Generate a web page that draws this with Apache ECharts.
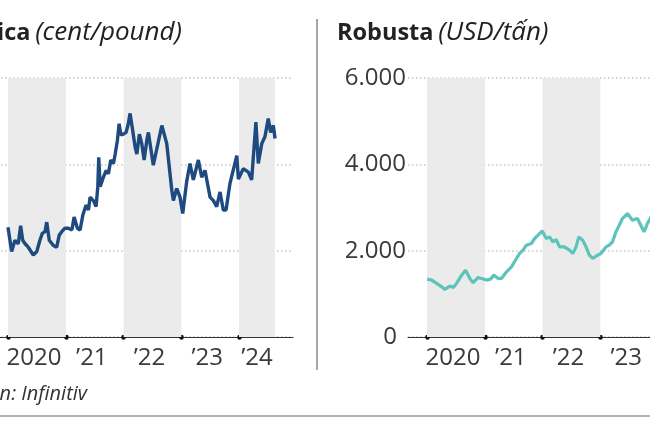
<!DOCTYPE html>
<html>
<head>
<meta charset="utf-8">
<script src="https://cdn.jsdelivr.net/npm/echarts@6/dist/echarts.min.js"></script>
<style>
html,body{margin:0;padding:0;background:#fff;}
#c{width:650px;height:433px;}
</style>
</head>
<body>
<div id="c"></div>
<script>
// ---------- DATA ----------
const years = [2020, 2021, 2022, 2023, 2024];
const tickLabels = ['2020', '\u201921', '\u201922', '\u201923', '\u201924'];

const arabicaDates = ['2020-01-01','2020-01-24','2020-02-14','2020-03-06','2020-03-21','2020-04-03','2020-04-18','2020-05-08','2020-06-09','2020-07-01','2020-07-21','2020-08-05','2020-08-22','2020-09-02','2020-09-18','2020-10-14','2020-11-04','2020-11-20','2020-12-06','2020-12-26','2021-01-17','2021-02-08','2021-02-22','2021-03-15','2021-04-01','2021-04-18','2021-05-09','2021-05-24','2021-06-03','2021-06-24','2021-07-11','2021-07-22','2021-07-28','2021-08-06','2021-08-26','2021-09-13','2021-09-27','2021-10-12','2021-10-29','2021-11-09','2021-11-23','2021-12-04','2021-12-15','2021-12-31','2022-01-17','2022-01-31','2022-02-11','2022-02-28','2022-03-15','2022-03-26','2022-04-11','2022-04-26','2022-05-11','2022-05-28','2022-06-07','2022-07-08','2022-08-31','2022-10-01','2022-11-02','2022-11-12','2022-12-03','2022-12-24','2023-01-10','2023-02-04','2023-02-25','2023-03-18','2023-04-19','2023-05-10','2023-05-31','2023-07-02','2023-07-23','2023-08-13','2023-09-03','2023-09-24','2023-10-11','2023-11-05','2023-12-18','2023-12-28','2024-01-28','2024-02-29','2024-03-21','2024-04-17','2024-05-02','2024-05-24','2024-06-13','2024-07-04','2024-07-19','2024-08-05','2024-08-16'];
const arabicaValues = [127,99,112,108,129,112,108,104,95,99,112,120,122,133,112,106,104,118,122,126,126,124,139,126,124,141,153,147,162,158,151,174,208,174,185,193,189,205,201,212,228,247,234,235,237,247,259,239,220,212,235,224,205,228,237,199,245,224,170,158,172,162,143,180,201,182,205,185,193,162,158,151,168,147,147,178,210,183,195,191,182,249,201,224,232,253,237,245,230];

const robustaDates = ['2020-01-02','2020-01-31','2020-03-02','2020-04-03','2020-04-23','2020-05-25','2020-06-15','2020-07-06','2020-08-07','2020-09-01','2020-09-28','2020-10-19','2020-11-19','2020-12-11','2021-01-12','2021-02-06','2021-02-27','2021-03-26','2021-04-16','2021-05-18','2021-06-18','2021-07-20','2021-08-09','2021-08-30','2021-09-21','2021-10-22','2021-11-12','2021-12-03','2021-12-30','2022-01-24','2022-02-14','2022-03-07','2022-03-28','2022-04-18','2022-05-19','2022-06-20','2022-07-11','2022-08-01','2022-08-18','2022-09-12','2022-10-03','2022-10-24','2022-11-14','2022-12-15','2023-01-05','2023-02-06','2023-02-27','2023-03-19','2023-04-10','2023-05-01','2023-05-21','2023-06-22','2023-07-23','2023-08-24','2023-09-14','2023-10-05','2023-10-26','2023-12-15','2024-03-01','2024-05-15','2024-08-16'];
const robustaValues = [1341,1318,1241,1163,1102,1179,1149,1241,1433,1549,1357,1256,1380,1357,1318,1341,1433,1357,1357,1510,1626,1819,1935,2011,2127,2166,2282,2358,2458,2282,2319,2204,2259,2088,2088,2011,1935,2088,2319,2243,2088,1896,1819,1896,1935,2088,2127,2204,2435,2589,2744,2860,2705,2744,2589,2435,2629,2950,3300,4000,4300];

const arabicaTicks = [0, 100, 200, 300];
const robustaTicks = [0, 2000, 4000, 6000];

// ---------- HELPERS ----------
function ts(s){ const p = s.split('-').map(Number); return new Date(p[0], p[1]-1, p[2]).getTime(); }
const YEAR = 365.25 * 864e5;
const PX_PER_YEAR = 57.75;
const T2020 = ts('2020-01-01');
const GRID_W = 304;
const xMin = T2020 - (19 / PX_PER_YEAR) * YEAR;
const xMax = xMin + (GRID_W / PX_PER_YEAR) * YEAR;

const yearStarts = years.map(y => new Date(y, 0, 1).getTime());
const endDate = ts(arabicaDates[arabicaDates.length - 1]);
const labelPos = years.map((y, i) => {
  const s = yearStarts[i];
  const e = i < years.length - 1 ? yearStarts[i + 1] : endDate;
  return i < years.length - 1 ? s + (e - s) * 0.45 : s + (e - s) * 0.5;
});
function yearLabel(v){
  const y = new Date(v).getFullYear();
  const i = years.indexOf(y);
  return i >= 0 ? tickLabels[i] : '';
}
function dotFmt(v){ return String(v).replace(/\B(?=(\d{3})+(?!\d))/g, '.'); }

const bands = [[yearStarts[0], yearStarts[1]], [yearStarts[2], yearStarts[3]], [yearStarts[4], endDate]];
const markArea = {
  silent: true,
  itemStyle: { color: '#ebebeb' },
  data: bands.map(b => [{ xAxis: b[0] }, { xAxis: b[1] }])
};

const FONT = 'Open Sans';
function xAxisDef(gi){
  return {
    type: 'value', gridIndex: gi, min: xMin, max: xMax, scale: true,
    axisLine: { show: true, onZero: false, lineStyle: { color: '#333', width: 1 } },
    axisTick: { show: true, customValues: yearStarts, length: 0.5, lineStyle: { color: '#111', width: 4.5, cap: 'round' } },
    axisLabel: { show: true, customValues: labelPos, formatter: yearLabel, fontFamily: FONT, fontSize: 24, color: '#3a3a3a', margin: 9 },
    splitLine: { show: false }
  };
}
function yAxisDef(gi, ticks, fmt){
  return {
    type: 'value', gridIndex: gi, min: ticks[0], max: ticks[ticks.length - 1], interval: ticks[1] - ticks[0],
    axisLine: { show: false }, axisTick: { show: false },
    splitLine: { show: true, lineStyle: { color: '#c4c4c4', width: 1.5, type: [1.5, 2.5] } },
    axisLabel: {
      fontFamily: FONT, fontSize: 24, color: '#3a3a3a', margin: 2,
      formatter: v => v === 0 ? '{z|0}' : fmt(v),
      rich: { z: { fontFamily: FONT, fontSize: 24, color: '#3a3a3a', padding: [0, 9, 0, 0] } }
    }
  };
}

const richTitle = {
  b: { fontFamily: FONT, fontSize: 23.5, fontWeight: 'bold', color: '#222' },
  i: { fontFamily: FONT, fontSize: 26, fontStyle: 'italic', fontWeight: 'normal', color: '#222' }
};

const chart = echarts.init(document.getElementById('c'), null, { renderer: 'canvas' });
chart.setOption({
  backgroundColor: '#fff',
  animation: false,
  textStyle: { fontFamily: FONT },
  title: [
    {
      text: '{b|Arabica} {i|(cent/pound)}', right: 650 - 182, top: 20, padding: 0,
      textStyle: { fontWeight: 'normal', rich: richTitle }
    },
    {
      text: '{b|Robusta} {i|(USD/t\u1ea5n)}', left: 337, top: 20, padding: 0,
      textStyle: { fontWeight: 'normal', rich: richTitle }
    },
    {
      text: 'Ngu\u1ed3n: Infinitiv', right: 650 - 87, top: 384, padding: 0,
      textStyle: { fontFamily: FONT, fontSize: 20, fontStyle: 'italic', fontWeight: 'normal', color: '#333' }
    }
  ],
  grid: [
    { left: -11, top: 78, width: GRID_W, height: 259, containLabel: false, outerBoundsMode: 'none' },
    { left: 408, top: 78, width: GRID_W, height: 259, containLabel: false, outerBoundsMode: 'none' }
  ],
  xAxis: [xAxisDef(0), xAxisDef(1)],
  yAxis: [yAxisDef(0, arabicaTicks, dotFmt), yAxisDef(1, robustaTicks, dotFmt)],
  series: [
    {
      name: 'Arabica', type: 'line', xAxisIndex: 0, yAxisIndex: 0, showSymbol: false,
      data: arabicaDates.map((d, i) => [ts(d), arabicaValues[i]]),
      lineStyle: { color: '#1e4a80', width: 3.4 }, itemStyle: { color: '#1e4a80' },
      markArea: markArea, z: 3
    },
    {
      name: 'Robusta', type: 'line', xAxisIndex: 1, yAxisIndex: 1, showSymbol: false,
      data: robustaDates.map((d, i) => [ts(d), robustaValues[i]]),
      lineStyle: { color: '#5cc4ba', width: 3.2 }, itemStyle: { color: '#5cc4ba' },
      markArea: markArea, z: 3
    }
  ],
  graphic: [
    { type: 'line', shape: { x1: 317, y1: 19, x2: 317, y2: 370 }, style: { stroke: '#8a8a8a', lineWidth: 1.5 }, silent: true },
    { type: 'line', shape: { x1: 0, y1: 416, x2: 650, y2: 416 }, style: { stroke: '#b0b0b0', lineWidth: 2 }, silent: true }
  ]
});
</script>
</body>
</html>
